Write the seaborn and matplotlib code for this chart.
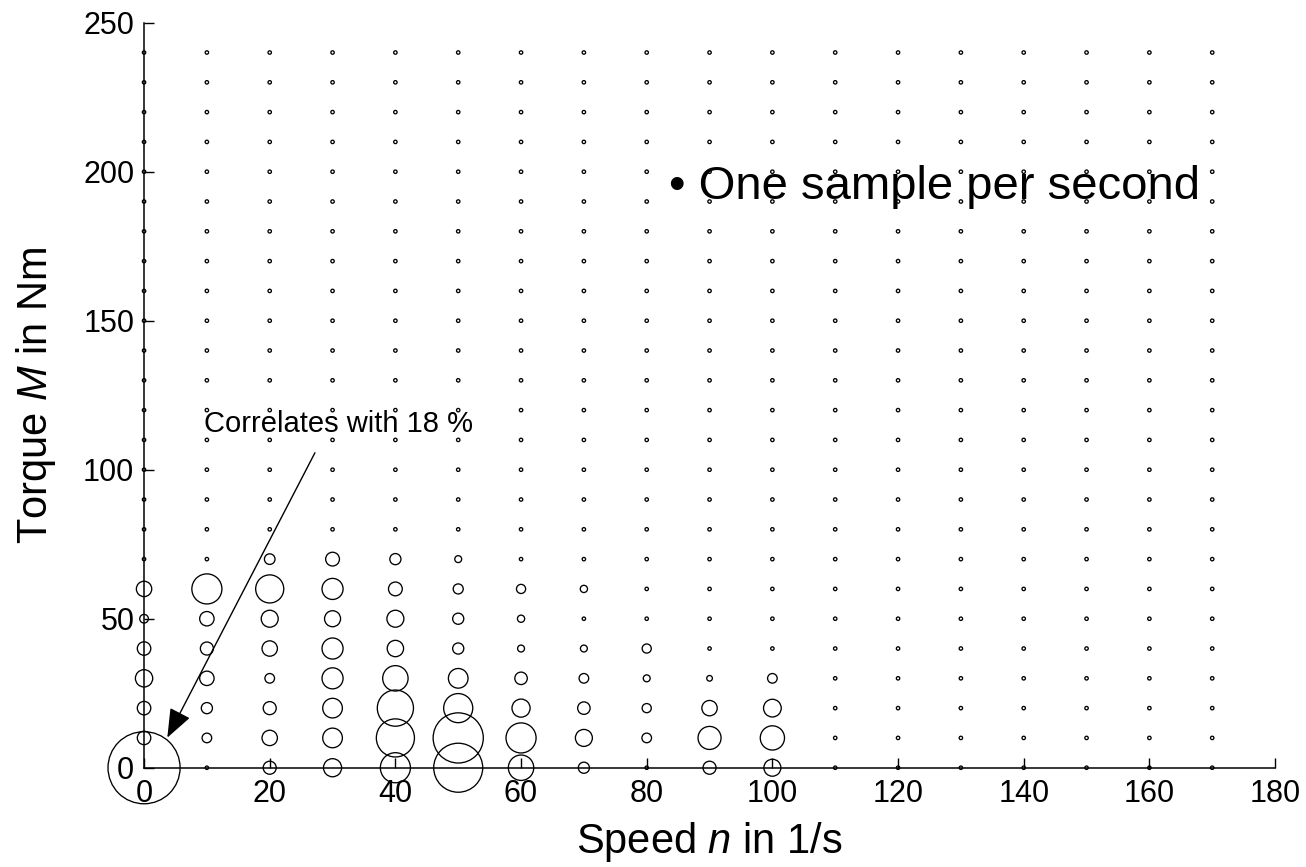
import numpy as np
import pandas as pd
import seaborn as sns
import matplotlib
matplotlib.use("Agg")
import matplotlib.pyplot as plt

# Operating grid of the drive: speed classes (1/s) and torque classes (Nm)
speed_levels = list(range(0, 180, 10))
torque_levels = list(range(0, 250, 10))

# Share of time spent in each occupied class, in percent (sampled once per second)
occupied_speed = [
    0, 0, 0, 0, 0, 0, 0,
    10, 10, 10, 10, 10, 10,
    20, 20, 20, 20, 20, 20, 20, 20,
    30, 30, 30, 30, 30, 30, 30, 30,
    40, 40, 40, 40, 40, 40, 40, 40,
    50, 50, 50, 50, 50, 50, 50, 50,
    60, 60, 60, 60, 60, 60, 60,
    70, 70, 70, 70, 70, 70,
    80, 80, 80, 80,
    90, 90, 90, 90,
    100, 100, 100, 100,
]
occupied_torque = [
    0, 10, 20, 30, 40, 50, 60,
    10, 20, 30, 40, 50, 60,
    0, 10, 20, 30, 40, 50, 60, 70,
    0, 10, 20, 30, 40, 50, 60, 70,
    0, 10, 20, 30, 40, 50, 60, 70,
    0, 10, 20, 30, 40, 50, 60, 70,
    0, 10, 20, 30, 40, 50, 60,
    0, 10, 20, 30, 40, 60,
    10, 20, 30, 40,
    0, 10, 20, 30,
    0, 10, 20, 30,
]
occupied_share = [
    18.0, 0.59, 0.59, 1.0, 0.59, 0.22, 0.78,
    0.28, 0.39, 0.68, 0.55, 0.68, 3.1,
    0.55, 0.78, 0.55, 0.28, 0.78, 0.96, 2.7, 0.35,
    1.1, 1.3, 1.3, 1.5, 1.5, 0.85, 1.5, 0.62,
    3.1, 5.0, 4.5, 2.2, 0.89, 0.96, 0.62, 0.39,
    8.3, 8.7, 2.9, 1.3, 0.39, 0.39, 0.31, 0.125,
    2.2, 3.1, 1.1, 0.5, 0.125, 0.14, 0.25,
    0.39, 0.96, 0.5, 0.28, 0.125, 0.14,
    0.28, 0.25, 0.125, 0.25,
    0.55, 1.8, 0.78, 0.07,
    0.96, 2.0, 1.05, 0.28,
]

# Full class grid, empty classes get a share of zero
grid = pd.DataFrame(
    [(n, m) for n in speed_levels for m in torque_levels], columns=["speed", "torque"]
)
shares = pd.DataFrame(
    {"speed": occupied_speed, "torque": occupied_torque, "share": occupied_share}
)
grid = grid.merge(shares, on=["speed", "torque"], how="left").fillna({"share": 0.0})

sns.set_theme(style="white")
plt.rcParams["font.family"] = ["Liberation Sans", "DejaVu Sans"]
plt.rcParams["mathtext.fontset"] = "custom"
plt.rcParams["mathtext.rm"] = "Liberation Sans"
plt.rcParams["mathtext.it"] = "Liberation Sans:italic"
plt.rcParams["text.color"] = "black"
plt.rcParams["axes.labelcolor"] = "black"

fig = plt.figure(figsize=(13.06, 8.67), dpi=100)
ax = fig.add_axes([0.1103, 0.1145, 0.8660, 0.8593])

# Circle area proportional to the time share
sns.scatterplot(
    data=grid, x="speed", y="torque", size="share",
    sizes=(6, 6 + 2687), size_norm=(0, 18),
    facecolors="none", edgecolor="black", linewidth=0.95,
    legend=False, clip_on=False, zorder=3, ax=ax,
)

ax.set_xlim(0, 180)
ax.set_ylim(0, 250)
ax.set_xticks(range(0, 181, 20))
ax.set_yticks(range(0, 251, 50))
ax.tick_params(axis="both", which="major", bottom=True, left=True,
               direction="in", length=7.5, width=1.0,
               colors="black", labelsize=22)
ax.tick_params(axis="x", pad=8)
ax.tick_params(axis="y", pad=7)
for side in ("top", "right"):
    ax.spines[side].set_visible(False)
for side in ("left", "bottom"):
    ax.spines[side].set_color("black")
    ax.spines[side].set_linewidth(1.1)

ax.set_xlabel("Speed $n$ in 1/s", fontsize=30, labelpad=8)
ax.set_ylabel("Torque $M$ in Nm", fontsize=30, labelpad=18)

ax.annotate(
    "", xy=(3.7, 10.1), xytext=(27.2, 105.7),
    arrowprops=dict(arrowstyle="-|>,head_length=0.9,head_width=0.35",
                    color="black", lw=1.0,
                    mutation_scale=20, shrinkA=0, shrinkB=0),
    zorder=5,
)
ax.text(9.6, 115.4, "Correlates with 18 %", fontsize=21,
        ha="left", va="center", color="black")
ax.text(83.5, 195.0, "• One sample per second", fontsize=34,
        ha="left", va="center", color="black")

fig.savefig("out.png", dpi=100)
